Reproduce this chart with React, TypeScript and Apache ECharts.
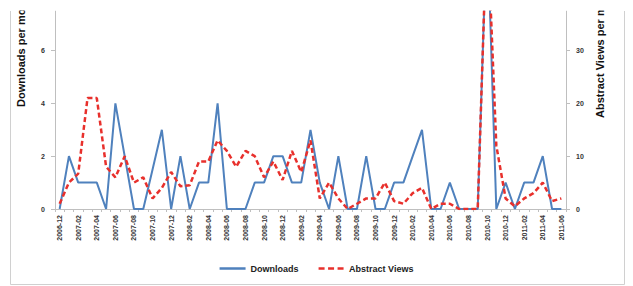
import React, { useEffect, useRef } from "react";
import * as echarts from "echarts";

const months = [
  "2006-12",
  "2007-01", "2007-02", "2007-03", "2007-04", "2007-05", "2007-06", "2007-07", "2007-08", "2007-09", "2007-10", "2007-11", "2007-12",
  "2008-01", "2008-02", "2008-03", "2008-04", "2008-05", "2008-06", "2008-07", "2008-08", "2008-09", "2008-10", "2008-11", "2008-12",
  "2009-01", "2009-02", "2009-03", "2009-04", "2009-05", "2009-06", "2009-07", "2009-08", "2009-09", "2009-10", "2009-11", "2009-12",
  "2010-01", "2010-02", "2010-03", "2010-04", "2010-05", "2010-06", "2010-07", "2010-08", "2010-09", "2010-10", "2010-11", "2010-12",
  "2011-01", "2011-02", "2011-03", "2011-04", "2011-05", "2011-06",
];

const downloads = [
  0, 2, 1, 1, 1, 0, 4, 2, 0, 0,
  1.5, 3, 0, 2, 0, 1, 1, 4, 0, 0,
  0, 1, 1, 2, 2, 1, 1, 3, 1, 0,
  2, 0, 0, 2, 0, 0, 1, 1, 2, 3,
  0, 0, 1, 0, 0, 0, 11, 0, 1, 0,
  1, 1, 2, 0, 0,
];

const abstractViews = [
  1, 5, 6.7, 21, 21, 8, 6, 10, 5, 6,
  2, 4, 7, 4.3, 4.5, 9, 9, 13, 11, 8,
  11, 10, 6, 9, 5.5, 11, 7, 13, 2, 5,
  2, 0, 1, 2, 2, 5, 1.5, 1, 3, 4,
  0, 1, 1, 0, 0, 0, 55, 12, 2, 0.5,
  2, 3, 5, 1.5, 2,
];

const seriesNames = ["Downloads", "Abstract Views"];
const axisTitles = ["Downloads per month", "Abstract Views per month"];

const FONT = "'Liberation Sans', Arial, sans-serif";
const BLUE = "#4F81BD";
const RED = "#E8302C";
const AXIS = "#BFBFBF";
const LABEL = "#333333";

export default function App() {
  const ref = useRef<HTMLDivElement>(null);

  useEffect(() => {
    document.body.style.margin = "0";
    if (!ref.current) return;
    const chart = echarts.init(ref.current, undefined, { renderer: "svg" });
    const axisCommon = {
      type: "value" as const,
      min: 0,
      axisLine: { show: true, lineStyle: { color: AXIS, width: 1 } },
      axisTick: { show: true, length: 4, lineStyle: { color: AXIS } },
      splitLine: { show: false },
    };
    chart.setOption({
      animation: false,
      textStyle: { fontFamily: FONT },
      grid: { left: 55, right: 67, top: 11, bottom: 77, containLabel: false },
      legend: {
        data: [
          { name: seriesNames[0], icon: "rect" },
          { name: seriesNames[1], icon: "path://M0,0h6v2.5h-6z M9.5,0h6v2.5h-6z M19,0h6v2.5h-6z" },
        ],
        left: "center",
        bottom: 8,
        itemWidth: 26,
        itemHeight: 2.5,
        itemGap: 20,
        textStyle: { fontSize: 9, fontWeight: "bold", color: "#222", fontFamily: FONT },
      },
      xAxis: {
        type: "category",
        data: months,
        boundaryGap: true,
        axisLine: { lineStyle: { color: AXIS } },
        axisTick: { show: true, interval: 0, length: 3, lineStyle: { color: AXIS } },
        axisLabel: {
          interval: 1,
          rotate: 90,
          fontSize: 7,
          fontWeight: "bold",
          color: LABEL,
          margin: 6,
          fontFamily: FONT,
        },
        splitLine: { show: false },
      },
      yAxis: [
        {
          ...axisCommon,
          position: "left",
          max: 7.5,
          interval: 2,
          axisLabel: { showMaxLabel: false, fontSize: 7, fontWeight: "bold", color: LABEL, margin: 10, fontFamily: FONT },
        },
        {
          ...axisCommon,
          position: "right",
          max: 37.5,
          interval: 10,
          axisLabel: { showMaxLabel: false, fontSize: 7, fontWeight: "bold", color: LABEL, margin: 10, fontFamily: FONT },
        },
      ],
      series: [
        {
          name: seriesNames[0],
          type: "line",
          yAxisIndex: 0,
          data: downloads,
          symbol: "none",
          showSymbol: false,
          clip: true,
          lineStyle: { color: BLUE, width: 2 },
          itemStyle: { color: BLUE },
        },
        {
          name: seriesNames[1],
          type: "line",
          yAxisIndex: 1,
          data: abstractViews,
          symbol: "none",
          showSymbol: false,
          clip: true,
          lineStyle: { color: RED, width: 2.5, type: [5, 3] },
          itemStyle: { color: RED },
        },
      ],
      graphic: [
        {
          type: "text",
          x: 21,
          y: 107,
          rotation: Math.PI / 2,
          style: {
            text: axisTitles[0],
            fontSize: 11,
            fontWeight: "bold",
            fontFamily: FONT,
            fill: "#111",
            align: "left",
            verticalAlign: "middle",
          },
          z: 10,
        },
        {
          type: "text",
          x: 600,
          y: 118,
          rotation: Math.PI / 2,
          style: {
            text: axisTitles[1],
            fontSize: 11,
            fontWeight: "bold",
            fontFamily: FONT,
            fill: "#111",
            align: "left",
            verticalAlign: "middle",
          },
          z: 10,
        },
        {
          type: "rect",
          z: 100,
          shape: { x: 0, y: 0, width: 633, height: 10.5 },
          style: { fill: "#fff" },
          silent: true,
        },
        {
          type: "line",
          z: 5,
          shape: { x1: 10.5, y1: 11, x2: 10.5, y2: 284.5 },
          style: { stroke: "#D0D0D0", lineWidth: 1 },
          silent: true,
        },
        {
          type: "line",
          z: 5,
          shape: { x1: 624.5, y1: 11, x2: 624.5, y2: 284.5 },
          style: { stroke: "#D0D0D0", lineWidth: 1 },
          silent: true,
        },
        {
          type: "line",
          z: 5,
          shape: { x1: 10.5, y1: 284.5, x2: 624.5, y2: 284.5 },
          style: { stroke: "#D0D0D0", lineWidth: 1 },
          silent: true,
        },
      ],
    });
    return () => chart.dispose();
  }, []);

  return <div ref={ref} style={{ width: 633, height: 286 }} />;
}
